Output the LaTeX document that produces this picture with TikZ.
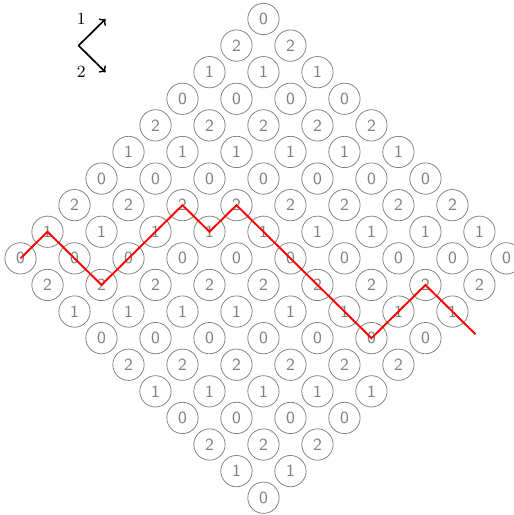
\documentclass[tikz,border=0pt]{standalone}
\usetikzlibrary{positioning}
\begin{document}
\begin{tikzpicture}[x=0.5cm, y=0.4926cm,
  site/.style={circle, draw=gray, text=gray, thin, minimum size=0.58cm, inner sep=0pt, font=\small\sffamily},
  walk/.style={red, line width=1pt, line join=miter},
  dir/.style={->, line width=0.9pt}
]
  \useasboundingbox (-9.76,0.714) rectangle (9.28,-18.65);
  % lattice of sites, label depends on the row
  \foreach \i in {0,...,9} {
    \foreach \j in {0,...,9} {
      \pgfmathtruncatemacro{\lab}{mod(3-mod(\i+\j,3),3)}
      \node[site] (c-\i-\j) at (\j-\i,-\i-\j) {\lab};
    }
  }
  % the walk
  \coordinate (exit) at (7.85,-11.85);
  \draw[walk] (c-9-0.center) -- (c-8-0.center) -- (c-8-1.center) -- (c-8-2.center)
    -- (c-7-2.center) -- (c-6-2.center) -- (c-5-2.center) -- (c-5-3.center)
    -- (c-4-3.center) -- (c-4-4.center) -- (c-4-5.center) -- (c-4-6.center)
    -- (c-4-7.center) -- (c-4-8.center) -- (c-3-8.center) -- (c-2-8.center)
    -- (c-2-9.center) -- (exit);
  % legend
  \coordinate (corner) at (-6.85,-1);
  \coordinate (up) at (-5.85,0);
  \coordinate (down) at (-5.85,-2);
  \draw[dir] (corner) -- (up);
  \draw[dir] (corner) -- (down);
  \node[font=\small] (one) at (-6.75,0) {1};
  \node[font=\small] (two) at (-6.75,-2) {2};
\end{tikzpicture}
\end{document}
